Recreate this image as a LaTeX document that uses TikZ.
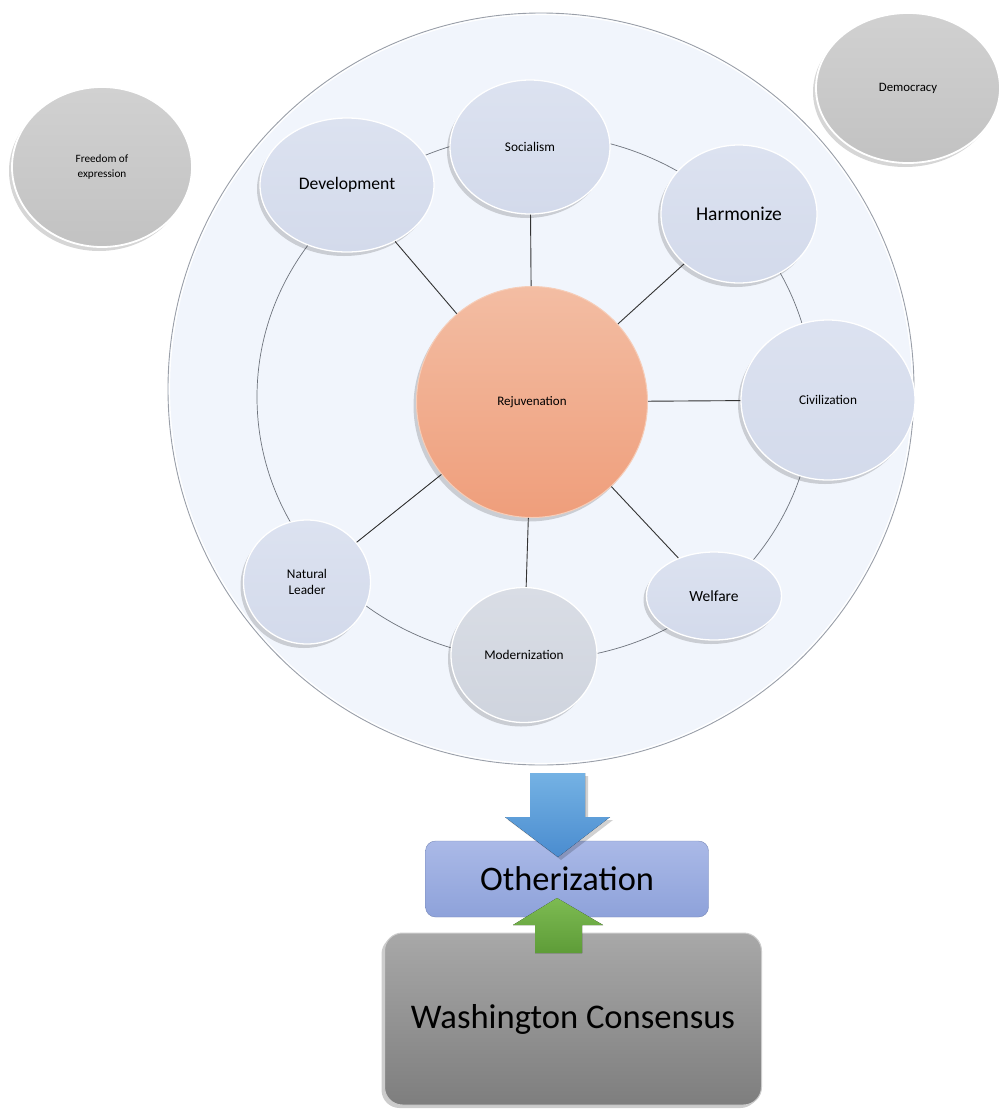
\documentclass[tikz,border=0pt]{standalone}
\usepackage{fontspec}
\setmainfont{Carlito}
\usetikzlibrary{shapes.geometric,shadows}

\definecolor{discfill}{HTML}{F1F5FC}
\definecolor{discedge}{HTML}{9A9FA8}
\definecolor{ringline}{HTML}{6E737C}
\definecolor{bubtop}{HTML}{DCE2F0}
\definecolor{bubbot}{HTML}{D3DAEB}
\definecolor{modtop}{HTML}{D9DDE5}
\definecolor{modbot}{HTML}{CFD4DE}
\definecolor{greytop}{HTML}{D1D1D1}
\definecolor{greybot}{HTML}{C2C2C2}
\definecolor{coretop}{HTML}{F3BDA3}
\definecolor{corebot}{HTML}{EF9E7B}
\definecolor{coreedge}{HTML}{F6CDB8}
\definecolor{othtop}{HTML}{AAB9E7}
\definecolor{othbot}{HTML}{8EA2DA}
\definecolor{washtop}{HTML}{A8A8A8}
\definecolor{washbot}{HTML}{7E7E7E}
\definecolor{bluetop}{HTML}{74B2E4}
\definecolor{bluebot}{HTML}{4A8CCF}
\definecolor{greentop}{HTML}{7DBB52}
\definecolor{greenbot}{HTML}{5E9C38}

\tikzset{
  softshadow/.style={drop shadow={shadow xshift=-3pt, shadow yshift=-4pt, opacity=0.16, fill=black}},
  bubble/.style={ellipse, inner sep=0pt, align=center, draw=white, line width=1.3pt,
    top color=bubtop, bottom color=bubbot, softshadow,
    font=\fontsize{13.3}{15}\selectfont},
  modbubble/.style={bubble, top color=modtop, bottom color=modbot},
  greybubble/.style={bubble, top color=greytop, bottom color=greybot, line width=1.8pt,
    font=\fontsize{11.2}{14}\selectfont},
  corebubble/.style={ellipse, inner sep=0pt, draw=coreedge, line width=1pt,
    top color=coretop, bottom color=corebot, softshadow,
    font=\fontsize{13}{15}\selectfont},
  link/.style={draw=black!80, line width=0.9pt},
  box/.style={rectangle, inner sep=0pt},
}

\begin{document}
\begin{tikzpicture}[x=1pt,y=-1pt]
  % page
  \fill[white] (0,0) rectangle (999,1109);
  \useasboundingbox (0,0) rectangle (999,1109);

  % large translucent disc holding the ring
  \node[ellipse, minimum width=746pt, minimum height=752pt, inner sep=0pt,
        fill=discfill, draw=discedge, line width=0.9pt] (disc) at (541,389) {};
  \node[ellipse, minimum width=743pt, minimum height=749pt, inner sep=0pt,
        draw=white, line width=1.2pt] (discgloss) at (541,389) {};

  % inner ring joining the outer bubbles
  \node[ellipse, minimum width=556pt, minimum height=526pt, inner sep=0pt,
        draw=ringline, line width=0.7pt] (ring) at (535,397) {};

  % outer bubbles
  \node[bubble, minimum width=174pt, minimum height=134pt,
        font=\fontsize{17.6}{19}\selectfont] (dev) at (347,185) {Development};
  \node[bubble, minimum width=160pt, minimum height=134pt] (soc) at (530,147) {Socialism};
  \node[bubble, minimum width=156pt, minimum height=138pt,
        font=\fontsize{19.5}{21}\selectfont] (har) at (739,214) {Harmonize};
  \node[bubble, minimum width=174pt, minimum height=160pt] (civ) at (828,400) {Civilization};
  \node[bubble, minimum width=135pt, minimum height=88pt,
        font=\fontsize{15.5}{17}\selectfont] (wel) at (714,596) {Welfare};
  \node[modbubble, minimum width=146pt, minimum height=135pt] (mod) at (524,655) {Modernization};
  \node[bubble, minimum width=127pt, minimum height=124pt] (nat) at (307,582) {Natural\\[1pt]Leader};

  % centre
  \node[corebubble, minimum width=231pt, minimum height=231pt] (rej) at (532,402) {Rejuvenation};

  % spokes
  \draw[link] (rej) -- (dev);
  \draw[link] (rej) -- (soc);
  \draw[link] (rej) -- (har);
  \draw[link] (rej) -- (civ);
  \draw[link] (rej) -- (wel);
  \draw[link] (rej) -- (mod);
  \draw[link] (rej) -- (nat);

  % free-standing grey bubbles
  \node[greybubble, minimum width=180pt, minimum height=160pt] (free) at (102,167) {Freedom of\\[1pt]expression};
  \node[greybubble, minimum width=184pt, minimum height=150pt,
        font=\fontsize{12.8}{14}\selectfont] (demo) at (908,88) {Democracy};

  % lower boxes
  \node[box, minimum width=283pt, minimum height=76pt, rounded corners=10pt,
        top color=othtop, bottom color=othbot, draw=othbot!85!black, line width=0.4pt,
        font=\fontsize{34.4}{36}\selectfont] (oth) at (567,879) {Otherization};
  \node[box, minimum width=377pt, minimum height=172pt, rounded corners=18pt,
        top color=washtop, bottom color=washbot, draw=white!80!black, line width=1pt,
        drop shadow={shadow xshift=-3pt, shadow yshift=-3pt, opacity=0.2, fill=black},
        font=\fontsize{34.6}{37}\selectfont] (wash) at (573,1019) {Washington Consensus};

  % block arrows feeding Otherization
  \fill[top color=bluetop, bottom color=bluebot,
        drop shadow={shadow xshift=3pt, shadow yshift=-3pt, opacity=0.18, fill=black}]
    (530,773) -- (585,773) -- (585,817) -- (610,817) -- (558,857)
    -- (505,817) -- (530,817) -- cycle;
  \fill[top color=greentop, bottom color=greenbot]
    (535,953) -- (582,953) -- (582,925) -- (603,925) -- (557,898)
    -- (513,925) -- (535,925) -- cycle;
\end{tikzpicture}
\end{document}
